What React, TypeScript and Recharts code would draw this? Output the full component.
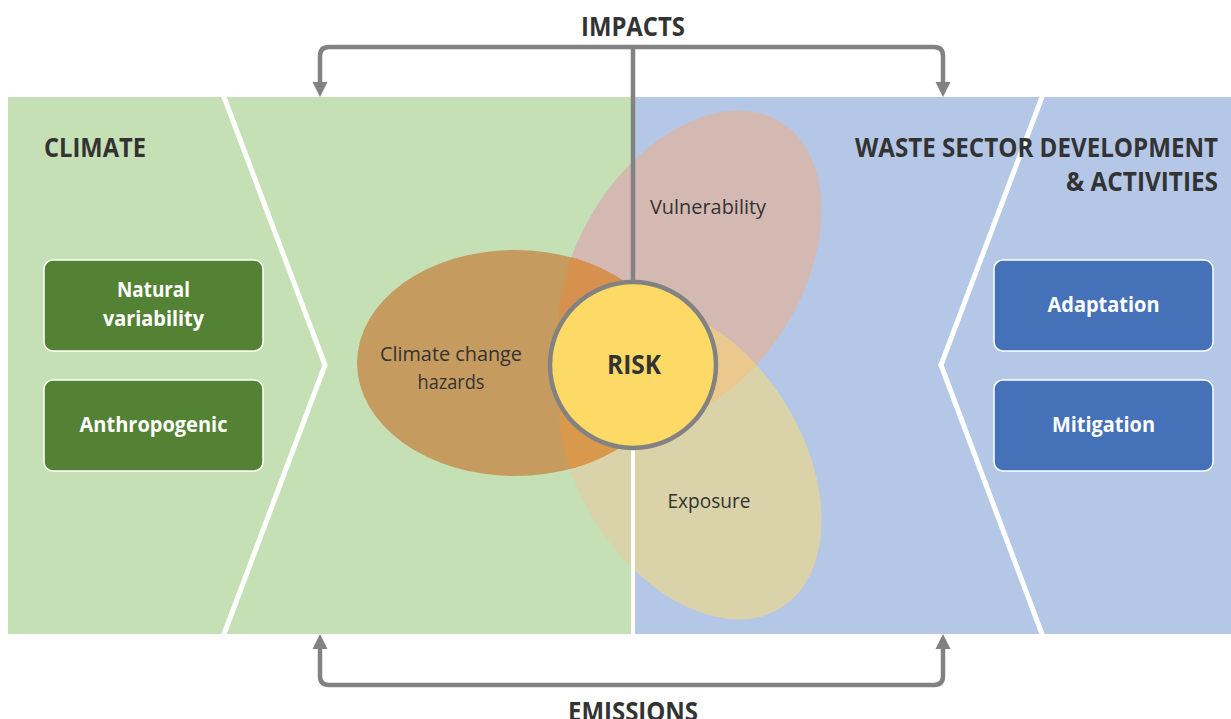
import React from 'react';
import { ComposedChart, XAxis, YAxis, ReferenceArea, ReferenceLine, ReferenceDot } from 'recharts';

// ---------- content ----------
const flowLabels = ['IMPACTS', 'EMISSIONS'];
const sectorTitles = [['CLIMATE'], ['WASTE SECTOR DEVELOPMENT', '& ACTIVITIES']];
const climateDrivers = [['Natural', 'variability'], ['Anthropogenic']];
const wasteResponses = [['Adaptation'], ['Mitigation']];
const riskComponents = [['Climate change', 'hazards'], ['Vulnerability'], ['Exposure']];
const centerLabel = 'RISK';

// ---------- layout (diagram units = pixels of the 1231x719 canvas) ----------
const W = 1231;
const H = 719;
const FONT = "'Open Sans', 'Noto Sans', 'DejaVu Sans', sans-serif";
const COL = {
  green: '#c5e0b4',
  blue: '#b4c7e7',
  greenBox: '#548235',
  blueBox: '#4571b8',
  gray: '#828282',
  text: '#333333',
  hazard: '#c69b5f',
  vuln: '#d4b9b3',
  expo: '#dad2a8',
  hzVu: '#d6914f',
  hzEx: '#d8994d',
  vuEx: '#ebc98e',
  risk: '#fdd966',
};
const panel = { left: 8, mid: 633, right: W, top: 97, bottom: 634 };
const riskAt = { x: 633, y: 365 };
const boxRows = [{ y1: 260, y2: 351 }, { y1: 380, y2: 471 }];
const climateBoxX = { x1: 44, x2: 263 };
const wasteBoxX = { x1: 994, x2: 1213 };
const impactsBracket = { x1: 320, x2: 943, y1: 47, y2: 97 };
const emissionsBracket = { x1: 320, x2: 943, y1: 634, y2: 685 };
const leftChevron = [{ x: 224, y: 97 }, { x: 325, y: 365 }, { x: 224, y: 634 }];
const rightChevron = [{ x: 1042, y: 97 }, { x: 941, y: 365 }, { x: 1042, y: 634 }];

// text widths (textLength) so the condensed look of the original is kept
const textW: Record<string, number> = {
  IMPACTS: 104,
  EMISSIONS: 130,
  CLIMATE: 102,
  'WASTE SECTOR DEVELOPMENT': 363,
  '& ACTIVITIES': 152,
  Natural: 73,
  variability: 101,
  Anthropogenic: 148,
  Adaptation: 112,
  Mitigation: 103,
  'Climate change': 142,
  hazards: 67,
  Vulnerability: 116,
  Exposure: 83,
  RISK: 54,
};

const txt = (
  x: number,
  y: number,
  s: string,
  size: number,
  weight: number | string,
  fill: string,
  anchor: 'start' | 'middle' | 'end' = 'middle',
) => (
  <text
    key={s + x + y}
    x={x}
    y={y}
    fontFamily={FONT}
    fontSize={size}
    fontWeight={weight}
    fill={fill}
    textAnchor={anchor}
    textLength={textW[s]}
    lengthAdjust="spacingAndGlyphs"
  >
    {s}
  </text>
);

const rectShape = (fill: string) => (p: any) => (
  <rect x={p.x} y={p.y} width={p.width} height={p.height} fill={fill} />
);

const boxShape = (lines: string[], fill: string) => (p: any) => {
  const cx = p.x + p.width / 2;
  const cy = p.y + p.height / 2;
  const lh = 29;
  const first = cy + 6 - ((lines.length - 1) * lh) / 2;
  return (
    <g>
      <rect x={p.x} y={p.y} width={p.width} height={p.height} rx={9} ry={9} fill={fill} stroke="#ffffff" strokeWidth={1.5} />
      {lines.map((l, i) => txt(cx, first + i * lh, l, 21, 700, '#ffffff'))}
    </g>
  );
};

const bracketShape = (down: boolean) => (p: any) => {
  const { x, y, width: w, height: h } = p;
  const r = 9;
  const ah = 15; // arrow head length
  const aw = 7.5;
  let d: string;
  let heads: string[];
  if (down) {
    const end = y + h - ah + 1;
    d = `M${x},${end} L${x},${y + r} Q${x},${y} ${x + r},${y} L${x + w - r},${y} Q${x + w},${y} ${x + w},${y + r} L${x + w},${end}`;
    heads = [
      `${x - aw},${y + h - ah} ${x + aw},${y + h - ah} ${x},${y + h}`,
      `${x + w - aw},${y + h - ah} ${x + w + aw},${y + h - ah} ${x + w},${y + h}`,
    ];
  } else {
    const end = y + ah - 1;
    d = `M${x},${end} L${x},${y + h - r} Q${x},${y + h} ${x + r},${y + h} L${x + w - r},${y + h} Q${x + w},${y + h} ${x + w},${y + h - r} L${x + w},${end}`;
    heads = [
      `${x - aw},${y + ah} ${x + aw},${y + ah} ${x},${y}`,
      `${x + w - aw},${y + ah} ${x + w + aw},${y + ah} ${x + w},${y}`,
    ];
  }
  return (
    <g>
      <path d={d} fill="none" stroke={COL.gray} strokeWidth={4.5} strokeLinejoin="round" />
      {heads.map((pts, i) => (
        <polygon key={i} points={pts} fill={COL.gray} />
      ))}
    </g>
  );
};

// three overlapping ellipses of the risk framework
const clusterShape = (p: any) => {
  const cx = p.x + p.width / 2;
  const cy = p.y + p.height / 2;
  const hz = { cx: cx - 118, cy: cy - 2, rx: 158, ry: 113 };
  const vu = { cx: cx + 57, cy: cy - 97, rx: 172, ry: 112, rot: -58 };
  const ex = { cx: cx + 57, cy: cy + 97, rx: 172, ry: 112, rot: 58 };
  const hzEl = (fill: string) => <ellipse cx={hz.cx} cy={hz.cy} rx={hz.rx} ry={hz.ry} fill={fill} />;
  const rotEl = (e: any, fill: string) => (
    <ellipse cx={e.cx} cy={e.cy} rx={e.rx} ry={e.ry} transform={`rotate(${e.rot} ${e.cx} ${e.cy})`} fill={fill} />
  );
  return (
    <g>
      <defs>
        <clipPath id="clipVu">{rotEl(vu, '#000')}</clipPath>
        <clipPath id="clipEx">{rotEl(ex, '#000')}</clipPath>
      </defs>
      {rotEl(vu, COL.vuln)}
      {rotEl(ex, COL.expo)}
      <g clipPath="url(#clipEx)">{rotEl(vu, COL.vuEx)}</g>
      {hzEl(COL.hazard)}
      <g clipPath="url(#clipVu)">{hzEl(COL.hzVu)}</g>
      <g clipPath="url(#clipEx)">{hzEl(COL.hzEx)}</g>
    </g>
  );
};

const labelDot = (lines: string[], size: number, weight: number, fill: string, lh: number, anchor: 'start' | 'middle' | 'end' = 'middle') =>
  (p: any) => (
    <g>{lines.map((l, i) => txt(p.cx, p.cy + i * lh, l, size, weight, fill, anchor))}</g>
  );

// anchor points (baseline of first line) for free text
const flowLabelAt = [{ x: 633, y: 36 }, { x: 633, y: 721 }];
const titleAt = [{ x: 44, y: 157, anchor: 'start' as const }, { x: 1218, y: 157, anchor: 'end' as const }];
const riskLabelAt = [{ x: 451, y: 361 }, { x: 708, y: 214 }, { x: 709, y: 508 }];

export default function App() {
  return (
    <div style={{ position: 'absolute', left: 0, top: 0, width: W, height: H, background: '#ffffff' }}>
      <ComposedChart width={W} height={H} margin={{ top: 0, right: 0, bottom: 0, left: 0 }} data={[]}>
        <XAxis type="number" dataKey="x" domain={[0, W]} hide allowDataOverflow />
        <YAxis type="number" dataKey="y" domain={[0, H]} reversed hide allowDataOverflow />

        {/* panels */}
        <ReferenceArea x1={panel.left} x2={panel.mid} y1={panel.top} y2={panel.bottom} shape={rectShape(COL.green)} ifOverflow="visible" />
        <ReferenceArea x1={panel.mid} x2={panel.right} y1={panel.top} y2={panel.bottom} shape={rectShape(COL.blue)} ifOverflow="visible" />

        {/* driver boxes */}
        {climateDrivers.map((lines, i) => (
          <ReferenceArea
            key={'c' + i}
            x1={climateBoxX.x1}
            x2={climateBoxX.x2}
            y1={boxRows[i].y1}
            y2={boxRows[i].y2}
            shape={boxShape(lines, COL.greenBox)}
            ifOverflow="visible"
          />
        ))}
        {wasteResponses.map((lines, i) => (
          <ReferenceArea
            key={'w' + i}
            x1={wasteBoxX.x1}
            x2={wasteBoxX.x2}
            y1={boxRows[i].y1}
            y2={boxRows[i].y2}
            shape={boxShape(lines, COL.blueBox)}
            ifOverflow="visible"
          />
        ))}

        {/* risk ellipses */}
        <ReferenceArea
          x1={riskAt.x - 200}
          x2={riskAt.x + 200}
          y1={riskAt.y - 200}
          y2={riskAt.y + 200}
          shape={clusterShape}
          ifOverflow="visible"
        />

        {/* impacts / emissions brackets */}
        <ReferenceArea {...impactsBracket} shape={bracketShape(true)} ifOverflow="visible" />
        <ReferenceArea {...emissionsBracket} shape={bracketShape(false)} ifOverflow="visible" />

        {/* chevron separators */}
        {[leftChevron, rightChevron].flatMap((pts, k) =>
          [0, 1].map((i) => (
            <ReferenceLine
              key={'chev' + k + i}
              segment={[pts[i], pts[i + 1]]}
              stroke="#ffffff"
              strokeWidth={5}
              strokeLinecap="round"
              ifOverflow="visible"
            />
          )),
        )}

        {/* connectors to the risk circle */}
        <ReferenceLine
          segment={[{ x: riskAt.x, y: impactsBracket.y1 }, { x: riskAt.x, y: riskAt.y }]}
          stroke={COL.gray}
          strokeWidth={4.5}
          ifOverflow="visible"
        />
        <ReferenceLine
          segment={[{ x: riskAt.x, y: riskAt.y }, { x: riskAt.x, y: panel.bottom }]}
          stroke="#ffffff"
          strokeWidth={4}
          ifOverflow="visible"
        />

        {/* risk circle */}
        <ReferenceDot
          x={riskAt.x}
          y={riskAt.y}
          ifOverflow="visible"
          shape={(p: any) => (
            <g>
              <circle cx={p.cx} cy={p.cy} r={83} fill={COL.risk} stroke={COL.gray} strokeWidth={4.5} />
              {txt(p.cx + 1, p.cy + 9, centerLabel, 26, 700, COL.text)}
            </g>
          )}
        />

        {/* texts */}
        {flowLabels.map((s, i) => (
          <ReferenceDot key={'f' + i} x={flowLabelAt[i].x} y={flowLabelAt[i].y} ifOverflow="visible" shape={labelDot([s], 27, 700, COL.text, 0)} />
        ))}
        {sectorTitles.map((lines, i) => (
          <ReferenceDot
            key={'t' + i}
            x={titleAt[i].x}
            y={titleAt[i].y}
            ifOverflow="visible"
            shape={labelDot(lines, 27, 700, COL.text, 34, titleAt[i].anchor)}
          />
        ))}
        {riskComponents.map((lines, i) => (
          <ReferenceDot key={'r' + i} x={riskLabelAt[i].x} y={riskLabelAt[i].y} ifOverflow="visible" shape={labelDot(lines, 20, 400, COL.text, 28)} />
        ))}
      </ComposedChart>
    </div>
  );
}
